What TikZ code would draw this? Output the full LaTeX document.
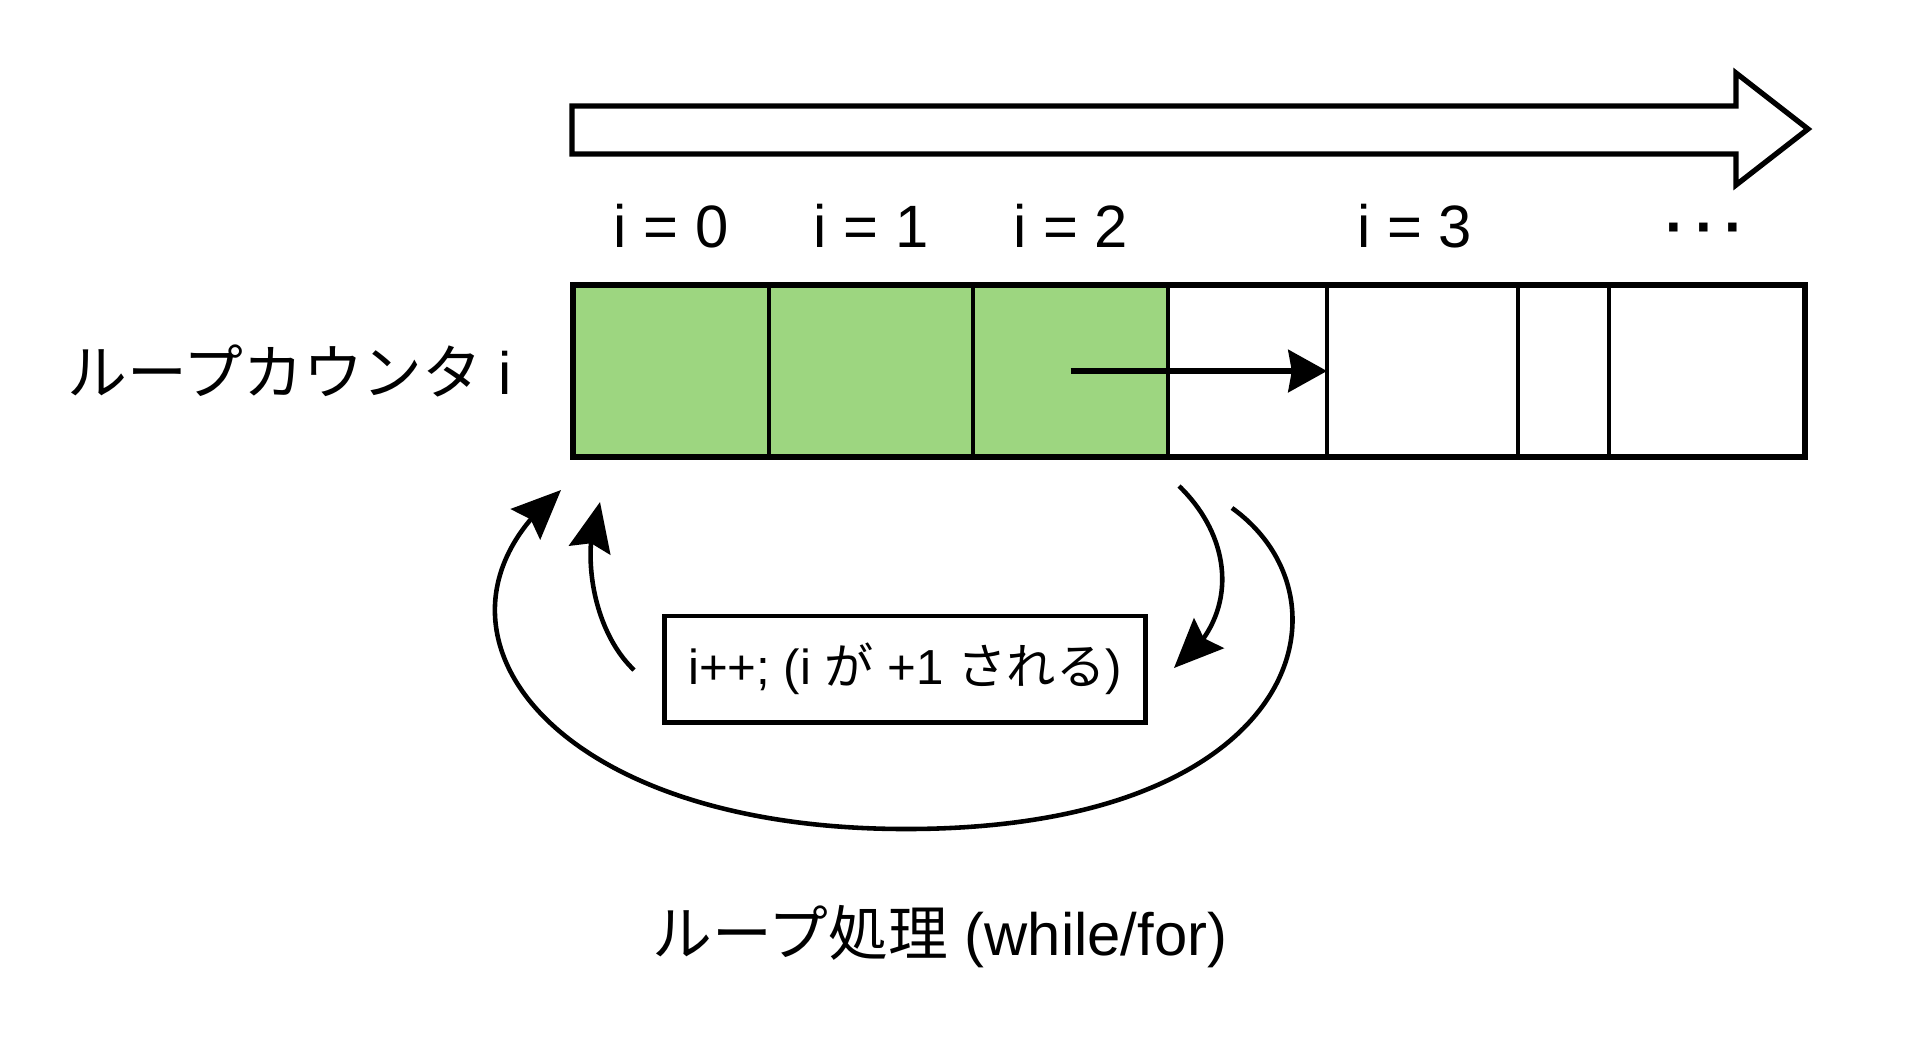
\documentclass[tikz,border=0pt]{standalone}
\usepackage{fontspec}
\setmainfont{Liberation Sans}
\newfontfamily\jp{Noto Sans CJK JP}
\usetikzlibrary{arrows.meta,bending,positioning,calc}
\definecolor{donegreen}{RGB}{157,214,128}
\tikzset{
  cell/.style={draw, line width=1pt, inner sep=0pt, outer sep=0pt, minimum height=1.72cm},
  lbl/.style={font=\fontsize{17}{20}\selectfont, inner sep=0pt},
  stepbox/.style={draw, line width=1.4pt, minimum width=4.81cm, minimum height=1.06cm,
    font=\fontsize{14}{17}\selectfont},
  flow/.style={line width=1.3pt, -{Stealth[length=14pt,width=12pt,inset=2pt,flex]}},
}
\begin{document}
\begin{tikzpicture}[x=0.01cm, y=-0.01cm]
        \useasboundingbox[fill=white] (0,0) rectangle (1920,1047);
        % draw time arrow
        \draw[line width=1.5pt, line join=miter] (572,106) -- (1736,106) -- (1736,73) -- (1808,129)
          -- (1736,185) -- (1736,154) -- (572,154) -- cycle;
        % draw cells
        \foreach \n/\l/\r/\f in {0/573/769/donegreen, 1/769/973/donegreen, 2/973/1168/donegreen,
            3/1168/1327/white, 4/1327/1518/white, 5/1518/1609/white, 6/1609/1805/white} {
          \pgfmathsetmacro\w{(\r-\l)*0.01}
          \pgfmathsetmacro\m{(\l+\r)/2}
          \node[cell, fill=\f, minimum width=\w cm] (c\n) at (\m,371) {};
        }
        \draw[line width=1.8pt] (c0.north west) rectangle (c6.south east);
        \draw[line width=1.6pt, -{Stealth[length=11pt,width=12pt,inset=1pt]}] (c2.center) -- (c3.east);
        % draw labels
        \foreach \n/\t/\s/\h in {0/{i = 0}/0/0.59, 1/{i = 1}/0/0.59, 2/{i = 2}/0/0.59,
            4/{i = 3}/-0.08/0.59, 6/{\textbf{·\,·\,·}}/-0.02/0.5}
        \node[lbl] (l\n) at ([xshift=\s cm, yshift=\h cm]c\n.north) {\t};
        \node[lbl, left=0.6cm of c0] (counter) {{\jp ループカウンタ} i};
        \node[stepbox] (inc) at (905,669) {i++; (i {\jp が} +1 {\jp される})};
        \node[lbl] (loop) at (940,937) {{\jp ループ処理} (while/for)};
        % draw loop arrows
        \coordinate (instart) at (634,670);
        \coordinate (inend) at (600,502);
        \coordinate (rstart) at (1179,486);
        \coordinate (rend) at (1174,668);
        \coordinate (ostart) at (1232,508);
        \coordinate (obottom) at (906,829);
        \coordinate (oend) at (561,490);
        \draw[flow] (instart) .. controls (592,630) and (580,550) .. (inend);
        \draw[flow] (rstart) .. controls (1235,540) and (1240,620) .. (rend);
        \draw[flow] (ostart) .. controls (1360,600) and (1300,829) .. (obottom)
          .. controls (540,829) and (400,620) .. (oend);
\end{tikzpicture}
\end{document}
